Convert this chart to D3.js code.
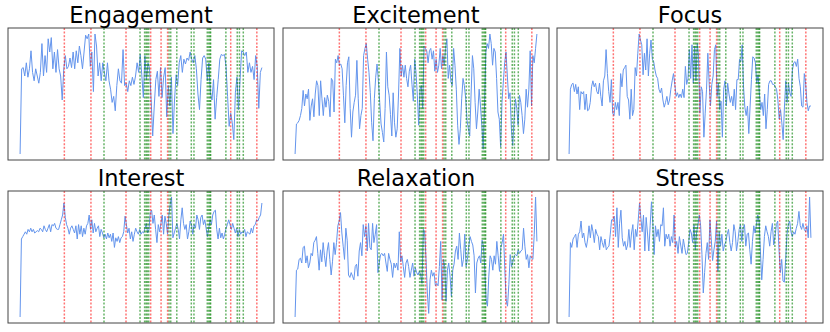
<!DOCTYPE html>
<html>
<head>
<meta charset="utf-8">
<script src="https://cdn.jsdelivr.net/npm/d3@7"></script>
<style>
html,body{margin:0;padding:0;background:#fff;}
svg{display:block;}
</style>
</head>
<body>
<svg id="chart" width="830" height="332"></svg>
<script>
// Panel titles
const titles = ["Engagement", "Excitement", "Focus", "Interest", "Relaxation", "Stress"];

// Metric readings (arbitrary 0-100 units), sampled evenly over the session
const engagement = [0,71,72,65,76,64,71,86,68,61,71,65,59,68,92,65,82,68,96,85,97,71,85,68,87,71,65,45,71,82,71,73,80,72,85,71,86,76,90,82,71,85,99,96,100,73,85,52,100,90,65,76,61,76,68,61,76,61,54,43,48,36,57,71,61,59,87,57,59,52,61,57,64,58,65,76,68,83,66,47,82,62,76,71,45,15,40,62,69,48,72,47,64,72,31,57,40,64,17,45,66,57,76,82,68,79,75,80,78,85,79,76,82,71,50,37,62,80,82,79,61,76,51,45,62,29,47,62,79,83,82,83,73,48,23,34,26,12,51,64,37,62,86,85,82,85,68,76,68,73,62,82,73,38,68,72];
const excitement = [0,25,26,28,32,38,53,40,50,46,54,28,40,46,31,50,61,57,32,61,46,32,47,39,49,44,31,63,61,35,79,76,82,74,75,71,49,26,57,76,81,38,14,35,43,49,78,46,21,32,38,82,88,92,79,68,51,26,11,46,64,75,61,43,25,18,10,38,85,56,49,33,15,51,26,14,21,50,88,65,74,64,74,63,56,69,74,58,44,79,68,49,24,54,57,38,90,88,86,76,86,88,79,86,69,79,68,74,88,71,82,74,88,96,63,74,60,57,88,74,54,24,8,21,46,63,57,46,28,21,15,50,82,71,43,21,35,54,40,24,4,40,85,92,88,100,92,74,88,85,63,35,29,6,43,60,76,85,65,46,51,21,7,29,46,38,24,49,43,32,17,29,54,39,54,86,40,82,76,88,100];
const focus = [0,54,58,59,52,58,50,56,37,52,50,52,37,50,36,37,43,56,61,56,59,52,50,59,48,40,61,65,87,67,52,43,62,34,32,43,37,43,32,67,56,70,72,74,48,45,29,54,32,37,72,65,84,100,95,91,66,84,70,96,65,84,95,79,77,70,65,63,54,51,55,45,39,43,48,41,45,54,61,67,58,48,51,47,50,47,54,47,73,58,63,87,63,91,59,90,61,92,81,34,56,52,14,34,54,84,59,40,58,65,87,91,48,59,37,44,14,54,61,40,59,50,43,48,40,54,37,62,62,79,77,91,56,39,32,40,17,40,62,81,80,76,59,66,51,37,43,32,50,21,37,58,61,61,58,58,56,54,45,29,37,26,12,40,61,43,59,51,48,70,76,77,73,79,63,56,40,39,67,59,43,36,40,40];
const interest = [0,65,67,69,71,69,73,71,74,71,73,70,71,72,71,74,73,71,76,73,71,74,77,71,77,76,78,74,73,73,77,81,85,95,83,77,74,69,74,76,73,70,76,65,77,69,76,67,74,69,76,78,85,73,81,70,78,71,74,76,67,73,70,66,69,65,70,66,69,63,70,58,66,63,67,62,66,67,71,84,77,70,74,65,71,63,69,74,71,69,73,69,71,70,74,78,70,73,87,89,78,85,73,62,77,71,78,85,69,84,78,69,85,94,100,66,70,74,78,73,65,81,91,78,73,77,65,71,80,77,69,77,74,85,81,73,83,85,77,81,74,67,74,81,77,85,88,89,73,65,74,66,70,65,69,74,77,81,77,73,78,74,70,74,67,73,69,71,70,73,67,71,70,69,74,70,76,77,81,80,83,85,95];
const relaxation = [0,39,40,48,49,45,58,59,45,51,41,45,53,51,62,64,67,53,39,56,46,62,51,42,55,62,48,35,46,62,52,62,76,80,87,70,59,48,74,64,35,33,37,34,31,42,44,34,55,62,51,77,67,76,55,78,58,56,78,62,69,77,37,45,52,53,51,53,45,38,53,48,44,33,45,41,45,39,71,46,51,42,33,45,48,42,33,39,45,34,41,37,35,38,35,28,73,71,48,20,3,31,39,34,37,26,28,26,42,63,14,48,42,13,39,45,34,17,39,44,55,59,48,70,56,42,48,69,42,48,59,67,63,60,51,20,45,49,51,45,64,59,39,14,9,34,51,48,39,51,44,63,51,38,58,62,69,39,14,9,27,52,42,46,51,52,51,56,53,55,56,74,59,48,52,41,51,49,48,69,100,63];
const stress = [0,62,58,65,67,69,58,69,71,80,66,70,62,58,65,76,66,77,71,62,73,69,67,56,67,62,58,65,56,58,59,69,81,81,84,67,91,58,78,89,66,59,63,56,60,73,58,70,77,56,73,67,80,95,83,71,85,55,83,70,55,76,96,78,52,76,67,73,63,77,76,91,59,69,65,69,59,67,62,85,58,63,53,67,60,53,65,58,52,53,62,73,70,62,77,56,71,77,85,76,52,20,37,53,62,48,81,65,47,56,63,80,38,71,59,69,55,60,63,69,73,62,55,62,77,71,55,63,73,77,63,74,77,59,69,70,56,44,63,76,70,77,85,80,55,31,48,67,76,71,67,59,71,78,60,67,77,80,56,37,48,30,29,48,69,77,80,71,67,71,69,74,78,88,76,73,78,73,71,76,66,100,66];

// Event markers, in percent of session time
const redEvents = [18.3, 29.3, 43.8, 54.0, 58.3, 61.0, 87.1, 97.9];
const greenEvents = [34.7, 49.6, 51.5, 52.1, 52.6, 53.2, 61.6, 62.3, 64.8, 70.8, 71.9, 77.4, 78.0, 78.5, 78.8, 85.1, 89.8, 90.7, 92.3];

const series = [engagement, excitement, focus, interest, relaxation, stress];

const svg = d3.select("#chart");
const panelW = 266, panelH = 132;
const colX = [8, 283, 557];
const rowY = [28, 191];

series.forEach((vals, k) => {
  const x0 = colX[k % 3], y0 = rowY[Math.floor(k / 3)];
  const g = svg.append("g").attr("transform", `translate(${x0},${y0})`);
  const n = vals.length;
  const tmax = 100;
  const x = d3.scaleLinear().domain([-0.05 * tmax, 1.05 * tmax]).range([0, panelW]);
  const [lo, hi] = d3.extent(vals);
  const pad = (hi - lo) * 0.05;
  const y = d3.scaleLinear().domain([lo - pad, hi + pad]).range([panelH, 0]);

  const line = d3.line()
    .x((d, i) => x(i * tmax / (n - 1)))
    .y(d => y(d));

  g.append("path")
    .datum(vals)
    .attr("d", line)
    .attr("fill", "none")
    .attr("stroke", "#6495ED")
    .attr("stroke-width", 1)
    .attr("stroke-linejoin", "round");

  g.selectAll("line.green")
    .data(greenEvents)
    .join("line")
    .attr("class", "green")
    .attr("x1", d => x(d)).attr("x2", d => x(d))
    .attr("y1", 0).attr("y2", panelH)
    .attr("stroke", "rgba(0,128,0,0.6)")
    .attr("stroke-width", 1.5)
    .attr("stroke-dasharray", "2,1.6");

  g.selectAll("line.red")
    .data(redEvents)
    .join("line")
    .attr("class", "red")
    .attr("x1", d => x(d)).attr("x2", d => x(d))
    .attr("y1", 0).attr("y2", panelH)
    .attr("stroke", "rgba(255,0,0,0.55)")
    .attr("stroke-width", 1.5)
    .attr("stroke-dasharray", "2,1.6");

  g.append("rect")
    .attr("x", 0).attr("y", 0)
    .attr("width", panelW).attr("height", panelH)
    .attr("fill", "none")
    .attr("stroke", "#444")
    .attr("stroke-width", 1);

  svg.append("text")
    .attr("x", x0 + panelW / 2)
    .attr("y", y0 - 5)
    .attr("text-anchor", "middle")
    .attr("font-family", "DejaVu Sans")
    .attr("font-size", 22.5)
    .attr("fill", "#000")
    .text(titles[k]);
});
</script>
</body>
</html>
